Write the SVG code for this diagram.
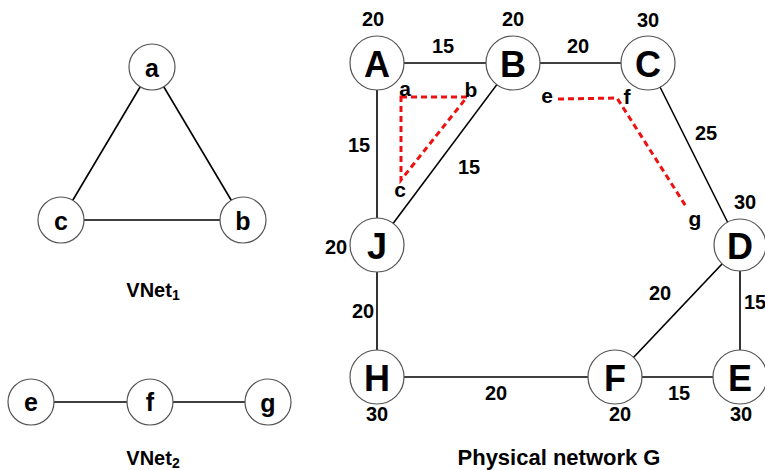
<svg xmlns="http://www.w3.org/2000/svg" width="765" height="470" viewBox="0 0 765 470">
  <style>
    .node circle { fill: #ffffff; stroke: #555555; stroke-width: 1.2; }
    .big text { font-family: "Liberation Sans", Arial, sans-serif; font-weight: bold; font-size: 36px; text-anchor: middle; dominant-baseline: central; fill: #000; }
    .small text { font-family: "Liberation Sans", Arial, sans-serif; font-weight: bold; font-size: 25px; text-anchor: middle; dominant-baseline: central; fill: #000; }
    .edge { stroke: #000; stroke-width: 1.6; fill: none; }
    .map { stroke: #ee1111; stroke-width: 3; stroke-dasharray: 6 4; fill: none; }
    .w { font-family: "Liberation Sans", Arial, sans-serif; font-weight: bold; font-size: 20px; text-anchor: middle; dominant-baseline: central; fill: #000; }
    .w.edge-right { text-anchor: start; }
    .vl { font-family: "Liberation Sans", Arial, sans-serif; font-weight: bold; font-size: 21px; text-anchor: middle; dominant-baseline: central; fill: #000; }
    .cap { font-family: "Liberation Sans", Arial, sans-serif; font-weight: bold; font-size: 20px; text-anchor: middle; fill: #000; }
    .cap.title { font-size: 22px; }
    .sub { font-size: 14px; }
  </style>

  <!-- connectors -->
  <g id="connectors">
    <!-- VNet1 -->
    <line class="edge" x1="152" y1="67" x2="61" y2="220"/>
    <line class="edge" x1="152" y1="67" x2="243" y2="220"/>
    <line class="edge" x1="61" y1="220" x2="243" y2="220"/>
    <!-- VNet2 -->
    <line class="edge" x1="31" y1="402" x2="268" y2="402"/>
    <!-- physical network -->
    <line class="edge" x1="377" y1="63" x2="648" y2="63"/>
    <line class="edge" x1="648" y1="63" x2="739" y2="245"/>
    <line class="edge" x1="377" y1="63" x2="377" y2="377"/>
    <line class="edge" x1="513" y1="63" x2="377" y2="245"/>
    <line class="edge" x1="377" y1="377" x2="740" y2="377"/>
    <line class="edge" x1="740" y1="245" x2="740" y2="377"/>
    <line class="edge" x1="740" y1="245" x2="615" y2="377"/>
    <!-- embeddings -->
    <polygon class="map" points="401,97 467,97 401,180"/>
    <polyline class="map" points="558,99 617,98 687,208"/>
  </g>

  <!-- VNet1 nodes -->
  <g id="node-a" class="node small"><circle cx="152" cy="67" r="23"/><text x="152" y="68">a</text></g>
  <g id="node-c" class="node small"><circle cx="61" cy="220" r="23"/><text x="61" y="221">c</text></g>
  <g id="node-b" class="node small"><circle cx="243" cy="220" r="23"/><text x="243" y="221">b</text></g>
  <!-- VNet2 nodes -->
  <g id="node-e" class="node small"><circle cx="31" cy="402" r="23"/><text x="31" y="402">e</text></g>
  <g id="node-f" class="node small"><circle cx="150" cy="402" r="23"/><text x="150" y="402">f</text></g>
  <g id="node-g" class="node small"><circle cx="268" cy="402" r="23"/><text x="268" y="403">g</text></g>

  <!-- physical nodes -->
  <g id="node-A" class="node big"><circle cx="377" cy="63" r="27"/><text x="377" y="64">A</text></g>
  <g id="node-B" class="node big"><circle cx="513" cy="63" r="27"/><text x="513" y="64">B</text></g>
  <g id="node-C" class="node big"><circle cx="648" cy="63" r="27"/><text x="648" y="64">C</text></g>
  <g id="node-J" class="node big"><circle cx="377" cy="245" r="27"/><text x="377" y="246">J</text></g>
  <g id="node-D" class="node big"><circle cx="740" cy="245" r="26"/><text x="740" y="246">D</text></g>
  <g id="node-H" class="node big"><circle cx="377" cy="377" r="27"/><text x="377" y="378">H</text></g>
  <g id="node-F" class="node big"><circle cx="615" cy="377" r="27"/><text x="615" y="378">F</text></g>
  <g id="node-E" class="node big"><circle cx="740" cy="377" r="27"/><text x="740" y="378">E</text></g>

  <!-- virtual node labels on the physical network -->
  <g id="embed-labels">
    <text class="vl" x="405" y="88">a</text>
    <text class="vl" x="471" y="89">b</text>
    <text class="vl" x="400" y="189">c</text>
    <text class="vl" x="547" y="95">e</text>
    <text class="vl" x="627" y="96">f</text>
    <text class="vl" x="695" y="218">g</text>
  </g>

  <!-- weights -->
  <g id="weights">
    <text class="w" x="373" y="19">20</text>
    <text class="w" x="513" y="19">20</text>
    <text class="w" x="648" y="20">30</text>
    <text class="w" x="443" y="46">15</text>
    <text class="w" x="578" y="46">20</text>
    <text class="w" x="359" y="145">15</text>
    <text class="w" x="469" y="167">15</text>
    <text class="w" x="706" y="133">25</text>
    <text class="w" x="745" y="202">30</text>
    <text class="w" x="336" y="247">20</text>
    <text class="w" x="363" y="311">20</text>
    <text class="w" x="660" y="293">20</text>
    <text class="w edge-right" x="744" y="302">15</text>
    <text class="w" x="496" y="393">20</text>
    <text class="w" x="679" y="393">15</text>
    <text class="w" x="377" y="414">30</text>
    <text class="w" x="620" y="414">20</text>
    <text class="w" x="741" y="414">30</text>
  </g>

  <!-- captions -->
  <text class="cap" x="153" y="297">VNet<tspan class="sub" dy="3">1</tspan></text>
  <text class="cap" x="153" y="465">VNet<tspan class="sub" dy="3">2</tspan></text>
  <text class="cap title" x="559" y="465">Physical network G</text>
</svg>
